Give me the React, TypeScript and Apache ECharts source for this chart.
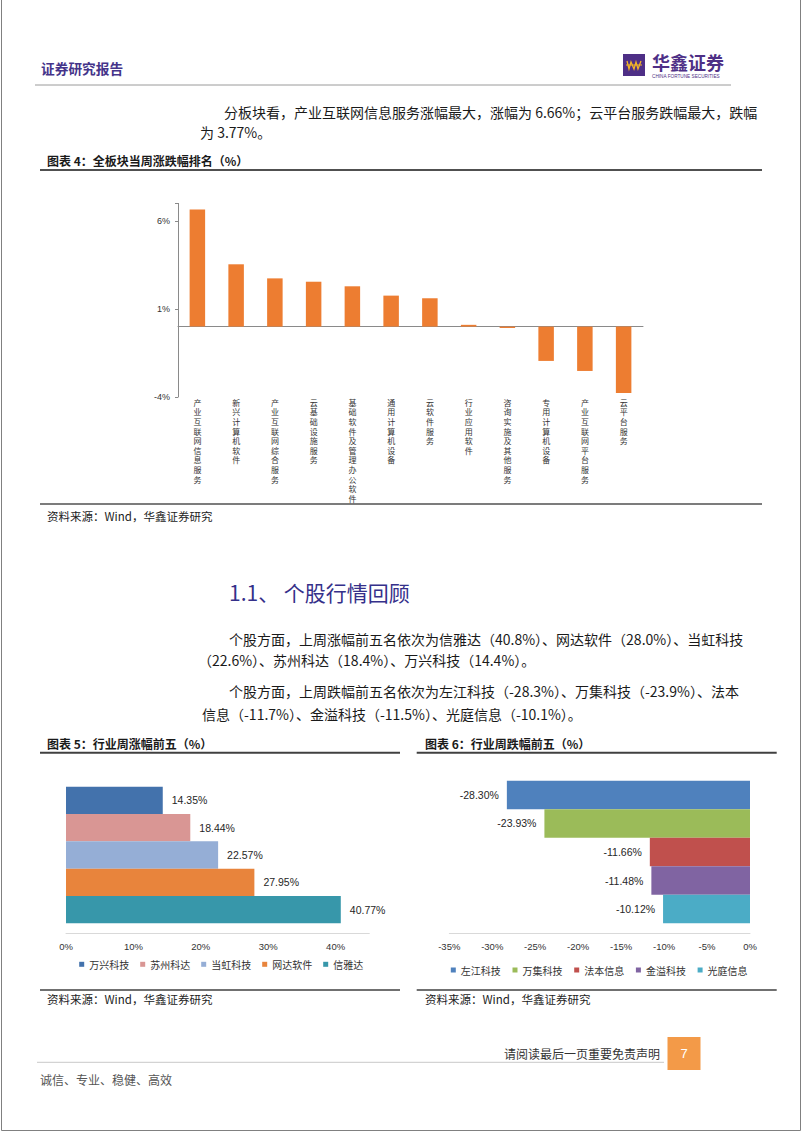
import React, { useEffect, useRef } from 'react';
import * as echarts from 'echarts';

const cats4 = ['产业互联网信息服务', '新兴计算机软件', '产业互联网综合服务', '云基础设施服务', '基础软件及管理办公软件', '通用计算机设备', '云软件服务', '行业应用软件', '咨询实施及其他服务', '专用计算机设备', '产业互联网平台服务', '云平台服务'];
const vals4 = [6.66, 3.54, 2.74, 2.55, 2.29, 1.76, 1.61, 0.1, -0.08, -1.95, -2.52, -3.77];
const ticks4 = [-4, 1, 6];

const names5 = ['万兴科技', '苏州科达', '当虹科技', '网达软件', '信雅达'];
const vals5 = [14.35, 18.44, 22.57, 27.95, 40.77];
const colors5 = ['#4372ac', '#d99694', '#95aed6', '#e8843c', '#3797aa'];
const ticks5 = [0, 10, 20, 30, 40];

const names6 = ['左江科技', '万集科技', '法本信息', '金溢科技', '光庭信息'];
const vals6 = [-28.3, -23.93, -11.66, -11.48, -10.12];
const colors6 = ['#4f81bd', '#9bbb59', '#c0504d', '#8064a2', '#4bacc6'];

const CJK = '"Noto Sans CJK SC", sans-serif';
const NUM = '"Liberation Sans", Arial, sans-serif';

function txt(text: string, x: number, y: number, o: any = {}) {
  return {
    type: 'text', x, y, silent: true,
    style: {
      text, fill: o.fill || '#1a1a1a', fontSize: o.size || 14, fontFamily: o.family || CJK,
      fontWeight: o.weight || 'normal', align: o.align || 'left', verticalAlign: 'middle',
    },
  };
}
function ln(x1: number, y1: number, x2: number, y2: number, stroke = '#555', w = 1) {
  return { type: 'line', silent: true, shape: { x1, y1, x2, y2 }, style: { stroke, lineWidth: w } };
}

export default function App() {
  const ref = useRef<HTMLDivElement>(null);
  useEffect(() => {
    document.body.style.margin = '0';
    const chart = echarts.init(ref.current!, null, { renderer: 'svg' });
    const graphic: any[] = [
      { type: 'rect', silent: true, shape: { x: 1.5, y: -2, width: 799, height: 1132.5 }, style: { fill: 'none', stroke: '#808080', lineWidth: 1 } },
      txt('证券研究报告', 41, 68, { size: 13.7, weight: 'bold', fill: '#45348a' }),
      { type: 'rect', silent: true, shape: { x: 623, y: 54, width: 22, height: 22 }, style: { fill: '#4e2f86' } },
      { type: 'polyline', silent: true, shape: { points: [[627, 61], [629, 69], [631, 62], [634, 69], [636, 62], [638, 69], [641, 61]] }, style: { stroke: '#f2b526', lineWidth: 1.3, fill: 'none' } },
      ln(626, 65, 642, 65, '#f2b526', 1),
      txt('华鑫证券', 652, 62, { size: 18, fill: '#4e2f86', weight: 'bold' }),
      txt('CHINA FORTUNE SECURITIES', 652, 76.5, { size: 4.7, fill: '#4e2f86', family: NUM }),
      ln(35, 85, 731, 85, '#9a9a9a', 1),
      txt('分板块看，产业互联网信息服务涨幅最大，涨幅为 6.66%；云平台服务跌幅最大，跌幅', 224, 111.7),
      txt('为 3.77%。', 200, 131.5),
      txt('图表 4：全板块当周涨跌幅排名（%）', 47, 160.7, { size: 12, weight: 'bold' }),
      ln(40, 170, 762, 170, '#505050', 2),
      ln(40, 504, 762, 504, '#505050', 1.5),
      txt('资料来源：Wind，华鑫证券研究', 47, 515.5, { size: 11.5, fill: '#222' }),
      txt('1.1、 个股行情回顾', 229, 591.5, { size: 21, fill: '#35308a' }),
      txt('个股方面，上周涨幅前五名依次为信雅达（40.8%）、网达软件（28.0%）、当虹科技', 229, 639),
      txt('（22.6%）、苏州科达（18.4%）、万兴科技（14.4%）。', 198, 660),
      txt('个股方面，上周跌幅前五名依次为左江科技（-28.3%）、万集科技（-23.9%）、法本', 229, 691),
      txt('信息（-11.7%）、金溢科技（-11.5%）、光庭信息（-10.1%）。', 202, 713.5),
      txt('图表 5：行业周涨幅前五（%）', 47, 743, { size: 12, weight: 'bold' }),
      txt('图表 6：行业周跌幅前五（%）', 425, 743, { size: 12, weight: 'bold' }),
      ln(40, 752.7, 400, 752.7, '#404040', 2),
      ln(416.7, 752.7, 776.7, 752.7, '#404040', 2),
      ln(40, 990, 400, 990, '#404040', 1.5),
      ln(416.7, 990, 776.7, 990, '#404040', 1.5),
      txt('资料来源：Wind，华鑫证券研究', 47, 998.5, { size: 11.5, fill: '#222' }),
      txt('资料来源：Wind，华鑫证券研究', 425, 998.5, { size: 11.5, fill: '#222' }),
      txt('请阅读最后一页重要免责声明', 660, 1053.3, { size: 12, align: 'right', fill: '#333' }),
      ln(37, 1062.3, 664, 1062.3, '#c8c8c8', 1),
      { type: 'rect', silent: true, shape: { x: 667.5, y: 1037, width: 33, height: 33 }, style: { fill: '#f39a48' } },
      txt('7', 684, 1053.5, { size: 13, fill: '#ffffff', align: 'center', family: NUM }),
      txt('诚信、专业、稳健、高效', 40, 1079.3, { size: 12, fill: '#555' }),
    ];

    const series: any[] = [
      { type: 'bar', xAxisIndex: 0, yAxisIndex: 0, data: vals4, barWidth: 15.5, itemStyle: { color: '#ED7D31' } },
      ...names5.map((n, i) => ({
        type: 'bar', name: n, xAxisIndex: 1, yAxisIndex: 1, stack: 's5', barWidth: '100%',
        data: names5.map((_, j) => (j === i ? vals5[i] : '-')),
        itemStyle: { color: colors5[i] },
        label: { show: true, position: 'right', distance: 9, formatter: (p: any) => p.value.toFixed(2) + '%', fontSize: 10.5, color: '#262626', fontFamily: NUM },
      })),
      ...names6.map((n, i) => ({
        type: 'bar', name: n, xAxisIndex: 2, yAxisIndex: 2, stack: 's6', barWidth: '100%',
        data: names6.map((_, j) => (j === i ? vals6[i] : '-')),
        itemStyle: { color: colors6[i] },
        label: { show: true, position: 'left', distance: 8, formatter: (p: any) => p.value.toFixed(2) + '%', fontSize: 10.5, color: '#262626', fontFamily: NUM },
      })),
    ];

    chart.setOption({
      animation: false,
      backgroundColor: '#ffffff',
      grid: [
        { left: 178, top: 203.4, width: 465, height: 193.6 },
        { left: 66, top: 786.7, width: 303.3, height: 136.6 },
        { left: 449.3, top: 780.7, width: 300.7, height: 142.6 },
      ],
      xAxis: [
        {
          type: 'category', gridIndex: 0, data: cats4,
          axisLine: { onZero: true, lineStyle: { color: '#8a8a8a' } },
          axisTick: { length: 3, lineStyle: { color: '#8a8a8a' } },
          axisLabel: { show: false },
        },
        {
          type: 'value', gridIndex: 1, min: 0, max: 45, interval: 10, position: 'bottom', offset: 10,
          axisLine: { show: true, lineStyle: { color: '#d9d9d9' } }, axisTick: { show: false }, splitLine: { show: false },
          axisLabel: { margin: 8, fontSize: 9.5, color: '#333', fontFamily: NUM, formatter: (v: number) => (ticks5.includes(v) ? v + '%' : '') },
        },
        {
          type: 'value', gridIndex: 2, min: -35, max: 0, interval: 5, position: 'bottom', offset: 10,
          axisLine: { show: true, onZero: false, lineStyle: { color: '#d9d9d9' } }, axisTick: { show: false }, splitLine: { show: false },
          axisLabel: { margin: 8, fontSize: 9.5, color: '#333', fontFamily: NUM, formatter: (v: number) => v + '%' },
        },
        {
          type: 'category', gridIndex: 0, data: cats4, position: 'bottom',
          axisLine: { show: false, onZero: false }, axisTick: { show: false },
          axisLabel: { interval: 0, margin: 0.5, fontSize: 8, lineHeight: 9.6, verticalAlign: 'top', color: '#333', fontFamily: CJK, formatter: (v: string) => v.split('').join('\n') },
        },
      ],
      yAxis: [
        {
          type: 'value', gridIndex: 0, min: -4, max: 7, interval: 5,
          axisLine: { show: true, lineStyle: { color: '#8a8a8a' } },
          axisTick: { show: true, length: 3, lineStyle: { color: '#8a8a8a' } },
          splitLine: { show: false },
          axisLabel: { margin: 8, fontSize: 9, color: '#333', fontFamily: NUM, formatter: (v: number) => (ticks4.includes(v) ? v + '%' : '') },
        },
        { type: 'category', gridIndex: 1, inverse: true, data: names5, axisLine: { show: false }, axisTick: { show: false }, axisLabel: { show: false } },
        { type: 'category', gridIndex: 2, inverse: true, data: names6, axisLine: { show: false, onZero: false }, axisTick: { show: false }, axisLabel: { show: false } },
      ],
      legend: [
        {
          data: names5, left: 79.2, top: 958.3, padding: 0, icon: 'rect', itemWidth: 5, itemHeight: 5, itemGap: 11, selectedMode: false,
          textStyle: { fontSize: 10, lineHeight: 12, color: '#333', fontFamily: CJK },
        },
        {
          data: names6, left: 450.8, top: 964, padding: 0, icon: 'rect', itemWidth: 5, itemHeight: 5, itemGap: 11.7, selectedMode: false,
          textStyle: { fontSize: 10, lineHeight: 12, color: '#333', fontFamily: CJK },
        },
      ],
      graphic,
      series,
    });
    return () => chart.dispose();
  }, []);
  return <div ref={ref} style={{ width: 802, height: 1133 }} />;
}
